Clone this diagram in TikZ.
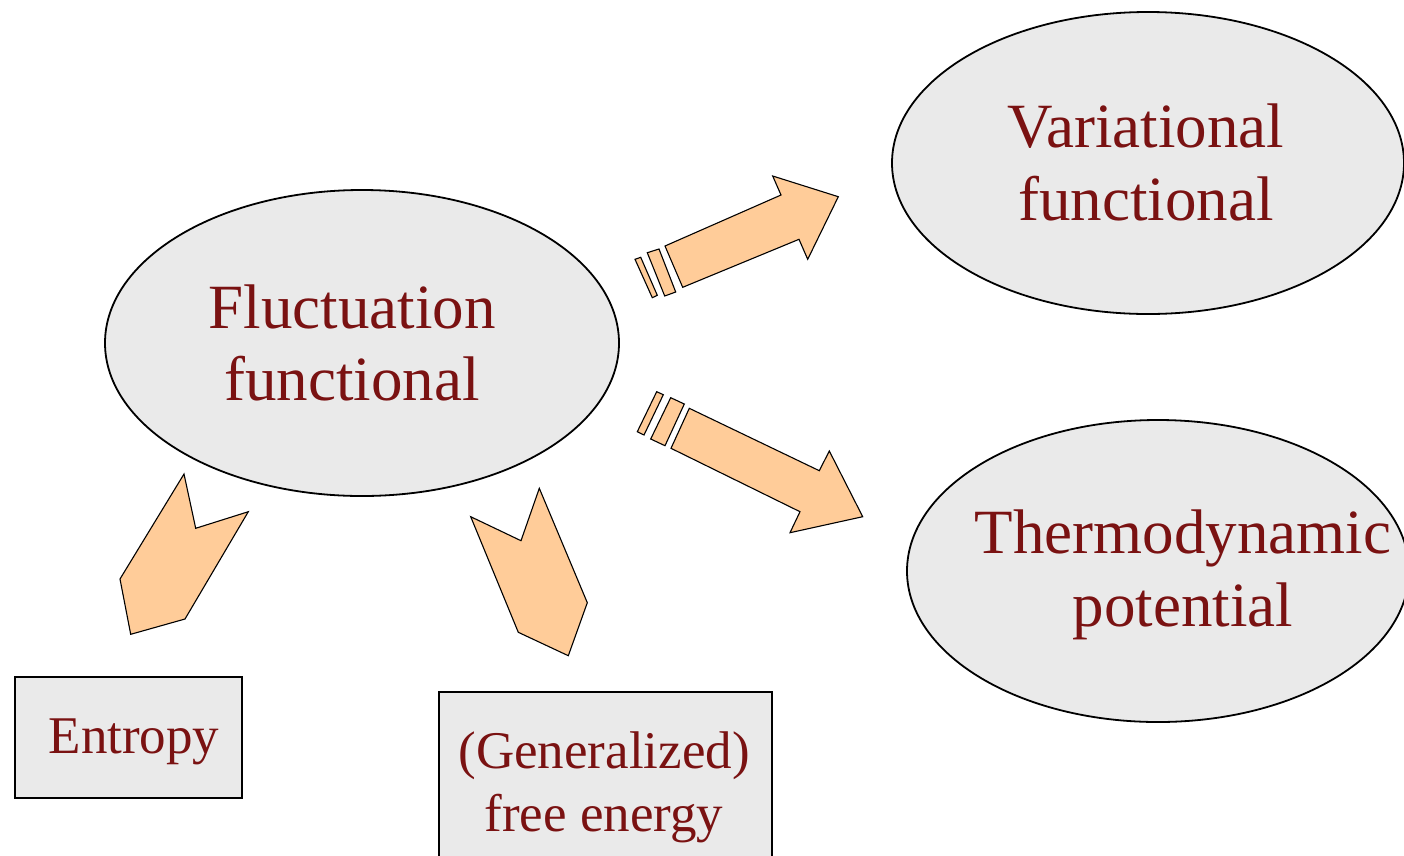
\documentclass[tikz,border=0pt]{standalone}
\usepackage{fontspec}
\setmainfont{Liberation Serif}
\usetikzlibrary{shapes.geometric}
\definecolor{txtred}{RGB}{122,18,18}
\definecolor{peach}{RGB}{255,204,153}
\definecolor{shade}{RGB}{234,234,234}
\tikzset{
  bubble/.style={ellipse, draw=black, line width=1.8pt, fill=shade, inner sep=0pt},
  boxnode/.style={rectangle, draw=black, line width=2pt, fill=shade, inner sep=0pt},
  bigtxt/.style={anchor=base, inner sep=0pt, text=txtred, font=\fontsize{63}{72}\selectfont},
  smalltxt/.style={anchor=base, inner sep=0pt, text=txtred, font=\fontsize{53}{63}\selectfont},
  blockarrow/.style={draw=black, line width=1.1pt, fill=peach, line join=miter},
}
\begin{document}
\begin{tikzpicture}[x=1pt,y=-1pt]
\path[use as bounding box, clip] (0,0) rectangle (1404,855);
\fill[white] (0,0) rectangle (1404,855);

% ellipses
\node[bubble, minimum width=514, minimum height=306] (fluct) at (362,343) {};
\node[bubble, minimum width=512, minimum height=302] (vari) at (1148,163) {};
\node[bubble, minimum width=502, minimum height=302] (thermo) at (1158,571) {};

% boxes
\node[boxnode, minimum width=227, minimum height=121] (entropy) at (128,737) {};
\node[boxnode, minimum width=333, minimum height=200] (free) at (605,792) {};

% texts
\node[bigtxt] (t1a) at (352,328) {Fluctuation};
\node[bigtxt] (t1b) at (352,400) {functional};
\node[bigtxt] (t2a) at (1146,147) {Variational};
\node[bigtxt] (t2b) at (1146,220) {functional};
\node[bigtxt] (t3a) at (1183,553) {Thermodynamic};
\node[bigtxt] (t3b) at (1183,626) {potential};
\node[smalltxt] (t4) at (134,753) {Entropy};
\node[smalltxt] (t5a) at (604,768) {(Generalized)};
\node[smalltxt] (t5b) at (604,831) {free energy};

% upper striped arrow
\draw[blockarrow] (635,259.3) -- (640.7,257.3) -- (657.3,295.3) -- (652.3,297.7) -- cycle;
\draw[blockarrow] (647.3,252.7) -- (659,249) -- (675.7,292) -- (664.7,296) -- cycle;
\draw[blockarrow] (665,246) -- (781,195) -- (772.7,176) -- (838.3,196.7) -- (807.7,259.3) -- (799,239.3) -- (682.7,287.3) -- cycle;

% lower striped arrow
\draw[blockarrow] (656.7,391.7) -- (663.3,394.7) -- (644,435) -- (637.3,431.7) -- cycle;
\draw[blockarrow] (670.7,397.7) -- (684.3,404) -- (665,445.7) -- (650.7,439) -- cycle;
\draw[blockarrow] (689.3,408.3) -- (819.3,470.7) -- (829.3,451) -- (862.7,516.7) -- (790,532.7) -- (800,511.7) -- (671,448.3) -- cycle;

% chevrons
\draw[blockarrow] (184,474) -- (195.7,528.3) -- (248.3,511.7) -- (185,619) -- (130.7,634.3) -- (120,579) -- cycle;
\draw[blockarrow] (470.7,516.7) -- (521,540.7) -- (539.3,488.3) -- (587.3,602.7) -- (568.3,655.7) -- (518.3,632.3) -- cycle;
\end{tikzpicture}
\end{document}
